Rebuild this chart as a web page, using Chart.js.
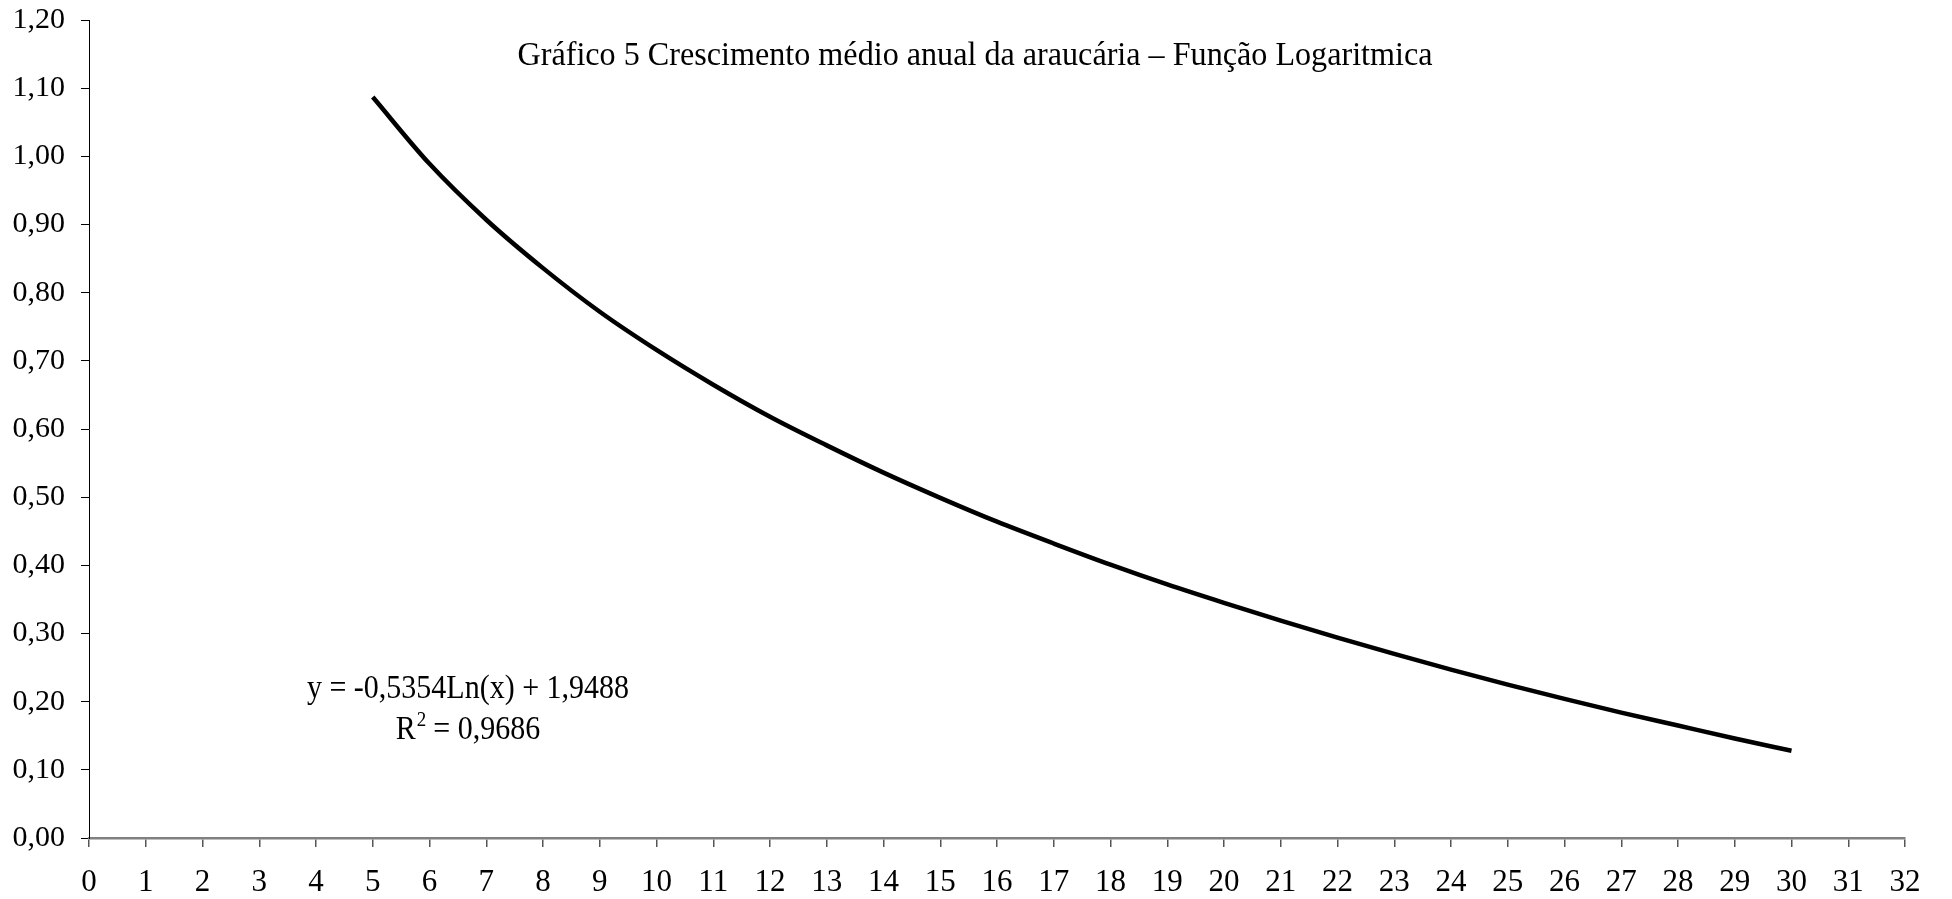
<!DOCTYPE html>
<html>
<head>
<meta charset="utf-8">
<script src="https://cdn.jsdelivr.net/npm/chart.js@4/dist/chart.umd.min.js"></script>
<style>
  html, body { margin: 0; padding: 0; background: #fff; }
  #wrap { width: 1952px; height: 899px; }
</style>
</head>
<body>
<div id="wrap"><canvas id="growth-chart" width="1952" height="899"></canvas></div>
<script>
const ages = [5, 6, 7, 8, 9, 10, 11, 12, 13, 14, 15, 16, 17, 18, 19, 20, 21, 22, 23, 24, 25, 26, 27, 28, 29, 30];
const growth = [1.087, 0.989, 0.907, 0.836, 0.772, 0.716, 0.665, 0.618, 0.576, 0.536, 0.499, 0.464, 0.432, 0.401, 0.372, 0.345, 0.319, 0.294, 0.270, 0.247, 0.225, 0.204, 0.184, 0.165, 0.146, 0.128];
const chartTitle = "Gráfico 5 Crescimento médio anual da araucária – Função Logaritmica";
const equationText = "y = -0,5354Ln(x) + 1,9488";
const r2Text = " = 0,9686";

const serif = "'Liberation Serif', 'Times New Roman', serif";
const growthChart = document.getElementById('growth-chart');

// the original text is a bit taller than it is wide, so stretch it
function stretchedText(ctx, text, x, y, sx, sy) {
    ctx.save();
    ctx.translate(x, y);
    ctx.scale(sx, sy);
    ctx.fillText(text, 0, 0);
    ctx.restore();
}

const textPlugin = {
    id: 'textPlugin',
    afterDraw(chart) {
        const ctx = chart.ctx;
        ctx.save();
        ctx.fillStyle = '#000';
        ctx.textBaseline = 'alphabetic';
        ctx.textAlign = 'center';

        ctx.font = '34px ' + serif;
        const w = ctx.measureText(chartTitle).width;
        stretchedText(ctx, chartTitle, 975, 65, 915 / w, 1);

        ctx.font = '30px ' + serif;
        stretchedText(ctx, equationText, 468, 698, 1, 1.12);

        ctx.textAlign = 'left';
        const rw = ctx.measureText('R').width;
        const total = rw + 10 + ctx.measureText(r2Text).width;
        const x0 = 468 - total / 2;
        stretchedText(ctx, 'R', x0, 739, 1, 1.12);
        stretchedText(ctx, r2Text, x0 + rw + 10, 739, 1, 1.12);
        ctx.font = '19px ' + serif;
        stretchedText(ctx, '2', x0 + rw + 1, 726, 1, 1.12);
        ctx.restore();
    }
};

new Chart(growthChart, {
    type: 'line',
    data: {
        labels: ages,
        datasets: [{
            label: 'Crescimento',
            data: ages.map((a, i) => ({ x: a, y: growth[i] })),
            borderColor: '#000',
            borderWidth: 4.5,
            pointRadius: 0,
            cubicInterpolationMode: 'monotone',
            fill: false
        }]
    },
    options: {
        responsive: false,
        animation: false,
        layout: { autoPadding: false, padding: { top: 20, right: 47, left: 0, bottom: 0 } },
        plugins: {
            legend: { display: false },
            title: { display: false },
            tooltip: { enabled: false }
        },
        scales: {
            x: {
                type: 'linear',
                min: 0,
                max: 32,
                afterFit(scale) {
                    scale.height = 61;
                    scale.paddingLeft = 0;
                    scale.paddingRight = 0;
                },
                ticks: {
                    stepSize: 1,
                    color: '#000',
                    padding: 17,
                    maxRotation: 0,
                    autoSkip: false,
                    font: { family: serif, size: 31 }
                },
                grid: {
                    drawOnChartArea: false,
                    tickLength: 9,
                    color: '#555',
                    lineWidth: 1.5
                },
                border: { color: '#808080', width: 2.5 }
            },
            y: {
                min: 0,
                max: 1.2,
                afterFit(scale) {
                    scale.width = 89;
                    scale.paddingTop = 0;
                    scale.paddingBottom = 0;
                },
                ticks: {
                    stepSize: 0.1,
                    color: '#000',
                    padding: 16,
                    font: { family: serif, size: 30 },
                    callback: v => v.toFixed(2).replace('.', ',')
                },
                grid: {
                    drawOnChartArea: false,
                    tickLength: 8,
                    color: '#000',
                    lineWidth: 1
                },
                border: { color: '#000', width: 1 }
            }
        }
    },
    plugins: [textPlugin]
});
</script>
</body>
</html>
